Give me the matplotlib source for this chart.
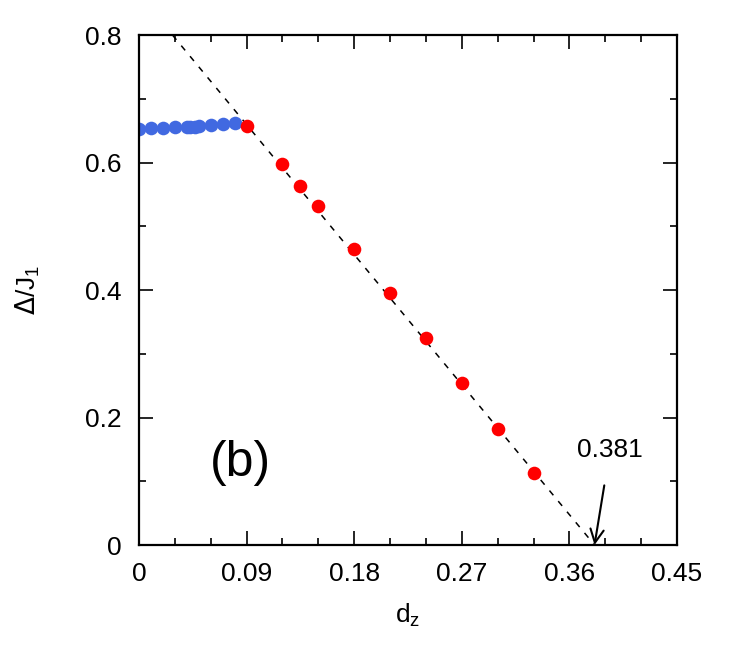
import numpy as np
import matplotlib.pyplot as plt
from matplotlib.ticker import MultipleLocator

plt.rcParams['font.family'] = ['Liberation Sans', 'DejaVu Sans']

# blue points (below the kink)
blue_x = [0.0, 0.01, 0.02, 0.03, 0.04, 0.043, 0.047, 0.05, 0.06, 0.07, 0.08]
blue_y = [0.652, 0.654, 0.654, 0.655, 0.656, 0.656, 0.656, 0.657, 0.659, 0.660, 0.662]

# red points (linear regime)
red_x = [0.09, 0.12, 0.135, 0.15, 0.18, 0.21, 0.24, 0.27, 0.30, 0.33]
red_y = [0.657, 0.598, 0.563, 0.532, 0.464, 0.395, 0.325, 0.254, 0.182, 0.113]

# linear fit, crossing zero at dz = 0.381
fit_x = [0.028, 0.381]
fit_y = [0.8, 0.0]
dz_c = 0.381

fig = plt.figure(figsize=(7.29, 6.64), dpi=100)
ax = fig.add_axes([0.1907, 0.1792, 0.738, 0.768])

ax.plot(fit_x, fit_y, 'k--', lw=1.1, dashes=(4, 5), zorder=1)
ax.plot(blue_x, blue_y, 'o', color='#4169E1', ms=9.8, mec='none', zorder=2)
ax.plot(red_x, red_y, 'o', color='#FF0000', ms=9.8, mec='none', zorder=3)

ax.annotate('%.3f' % dz_c, xy=(dz_c, 0.0), xytext=(0.394, 0.149),
            ha='center', va='center', fontsize=19,
            arrowprops=dict(arrowstyle='->', lw=1.5, color='k',
                            shrinkA=15, shrinkB=0, mutation_scale=24))
ax.text(0.0845, 0.128, '(b)', fontsize=36, ha='center', va='center')

ax.set_xlim(0, 0.45)
ax.set_ylim(0, 0.8)
ax.xaxis.set_minor_locator(MultipleLocator(0.03))
ax.yaxis.set_minor_locator(MultipleLocator(0.1))
ax.set_xticks([0, 0.09, 0.18, 0.27, 0.36, 0.45])
ax.set_xticklabels(['0', '0.09', '0.18', '0.27', '0.36', '0.45'])
ax.set_yticks([0, 0.2, 0.4, 0.6, 0.8])
ax.set_yticklabels(['0', '0.2', '0.4', '0.6', '0.8'])

ax.tick_params(which='both', direction='in', top=True, right=True, labelsize=19, width=1.2)
ax.tick_params(which='major', length=10, pad=12.5)
ax.tick_params(which='minor', length=5)
for s in ax.spines.values():
    s.set_linewidth(1.6)

ax.set_xlabel(r'd$_\mathregular{z}$', fontsize=19, labelpad=11)
ax.set_ylabel(r'$\Delta$/J$_\mathregular{1}$', fontsize=19, labelpad=31)

fig.savefig('out.png', dpi=100)
